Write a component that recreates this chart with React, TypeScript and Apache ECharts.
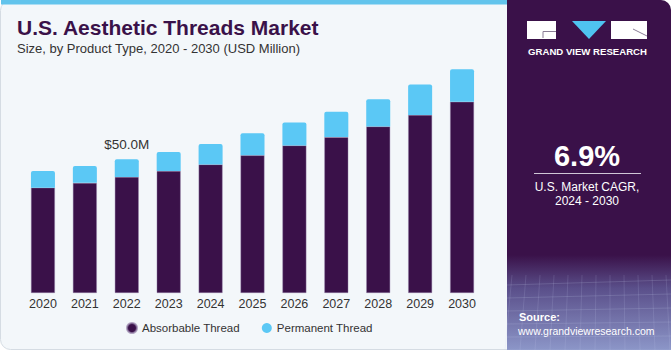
import React, { useEffect, useRef } from "react";
import * as echarts from "echarts";

const years = ["2020", "2021", "2022", "2023", "2024", "2025", "2026", "2027", "2028", "2029", "2030"];
const absorbable = [39.4, 41.2, 43.4, 45.6, 48.1, 51.5, 55.2, 58.3, 62.3, 66.6, 71.5];
const permanent = [6.2, 6.3, 6.6, 7.1, 7.6, 8.2, 8.6, 9.5, 10.2, 11.4, 12.2];
const labelIndex = 2;
const labelText = "$50.0M";
const seriesNames = ["Absorbable Thread", "Permanent Thread"];
const title = "U.S. Aesthetic Threads Market";
const subtitle = "Size, by Product Type, 2020 - 2030 (USD Million)";
const cagrValue = "6.9%";
const cagrLines = ["U.S. Market CAGR,", "2024 - 2030"];

const DARK = "#3a1149";
const LIGHT = "#5bc8f5";
const FONT = "'Liberation Sans', Arial, sans-serif";

export default function App() {
  const ref = useRef<HTMLDivElement>(null);
  useEffect(() => {
    document.body.style.margin = "0";
    if (!ref.current) return;
    const chart = echarts.init(ref.current, undefined, { renderer: "svg" });
    const gridLines: any[] = [];
    for (let i = 0; i < 6; i++) {
      gridLines.push({
        type: "line",
        silent: true,
        shape: { x1: 507, y1: 285 + i * 13, x2: 671, y2: 280 + i * 14 },
        style: { stroke: "rgba(200,210,240,0.18)", lineWidth: 1 },
      });
    }
    for (let i = 0; i < 12; i++) {
      gridLines.push({
        type: "line",
        silent: true,
        shape: { x1: 512 + i * 14, y1: 275, x2: 505 + i * 15, y2: 350 },
        style: { stroke: "rgba(200,210,240,0.15)", lineWidth: 1 },
      });
    }
    chart.setOption({
      animation: false,
      textStyle: { fontFamily: FONT },
      grid: { left: 22, right: 188, top: 25.6, bottom: 57, containLabel: false },
      xAxis: {
        type: "category",
        data: years,
        axisLine: { show: false },
        axisTick: { show: false },
        axisLabel: { color: "#333", fontSize: 12.5, margin: 4, fontFamily: FONT },
      },
      yAxis: { type: "value", min: 0, max: 100, show: false },
      legend: {
        data: seriesNames,
        left: 121,
        top: 317,
        icon: "circle",
        itemWidth: 10,
        itemHeight: 10,
        itemGap: 22,
        textStyle: { color: "#333", fontSize: 11.5, fontFamily: FONT },
      },
      graphic: [
        {
          type: "rect",
          silent: true,
          z: -10,
          shape: { x: 0.5, y: 0.5, width: 670, height: 349, r: 10 },
          style: { fill: "#f3f7fa", stroke: "#d5dce3", lineWidth: 1 },
        },
        {
          type: "rect",
          silent: true,
          z: -9,
          shape: { x: 1, y: 0, width: 510, height: 4.5 },
          style: { fill: "#62c4ec" },
        },
        {
          type: "rect",
          silent: true,
          z: -8,
          shape: { x: 507, y: 0, width: 164, height: 350, r: [0, 10, 0, 0] },
          style: { fill: DARK },
        },
        {
          type: "rect",
          silent: true,
          z: -7,
          shape: { x: 507, y: 255, width: 164, height: 95 },
          style: {
            fill: new echarts.graphic.LinearGradient(0, 0, 0, 1, [
              { offset: 0, color: "rgba(58,17,73,1)" },
              { offset: 0.35, color: "#5a4f8a" },
              { offset: 1, color: "#8c96c8" },
            ]),
          },
        },
        ...gridLines.map((g) => ({ ...g, z: -6 })),
        // logo
        { type: "rect", silent: true, shape: { x: 527, y: 21, width: 29, height: 18 }, style: { fill: "#fff" } },
        {
          type: "polyline",
          silent: true,
          shape: { points: [[556, 31.5], [543, 31.5], [543, 38]] },
          style: { stroke: "#8a7d96", lineWidth: 1, fill: "none" },
        },
        {
          type: "polygon",
          silent: true,
          shape: { points: [[572, 21], [606, 21], [589, 39]] },
          style: { fill: "#4fc3f0" },
        },
        { type: "rect", silent: true, shape: { x: 611, y: 21, width: 36, height: 18 }, style: { fill: "#fff" } },
        {
          type: "polyline",
          silent: true,
          shape: { points: [[633, 29], [647, 36]] },
          style: { stroke: "#8a7d96", lineWidth: 1, fill: "none" },
        },
        {
          type: "text",
          silent: true,
          x: 587.5,
          y: 51.5,
          style: {
            text: "GRAND VIEW RESEARCH",
            fill: "#fff",
            font: `bold 9.6px ${FONT}`,
            align: "center",
            verticalAlign: "middle",
          },
        },
        // title
        {
          type: "text",
          silent: true,
          x: 17,
          y: 27.5,
          style: {
            text: title,
            fill: DARK,
            font: `bold 21px ${FONT}`,
            align: "left",
            verticalAlign: "middle",
          },
        },
        {
          type: "text",
          silent: true,
          x: 17,
          y: 48.5,
          style: {
            text: subtitle,
            fill: "#333",
            font: `13px ${FONT}`,
            align: "left",
            verticalAlign: "middle",
          },
        },
        // CAGR
        {
          type: "text",
          silent: true,
          x: 587,
          y: 155.5,
          style: {
            text: cagrValue,
            fill: "#fff",
            font: `bold 29px ${FONT}`,
            align: "center",
            verticalAlign: "middle",
          },
        },
        {
          type: "line",
          silent: true,
          shape: { x1: 534, y1: 173.5, x2: 641, y2: 173.5 },
          style: { stroke: "#cfc6d6", lineWidth: 1 },
        },
        {
          type: "text",
          silent: true,
          x: 587,
          y: 186.5,
          style: {
            text: cagrLines[0],
            fill: "#fff",
            font: `12px ${FONT}`,
            align: "center",
            verticalAlign: "middle",
          },
        },
        {
          type: "text",
          silent: true,
          x: 587,
          y: 201,
          style: {
            text: cagrLines[1],
            fill: "#fff",
            font: `12px ${FONT}`,
            align: "center",
            verticalAlign: "middle",
          },
        },
        {
          type: "text",
          silent: true,
          x: 519,
          y: 317,
          style: {
            text: "Source:",
            fill: "#fff",
            font: `bold 11px ${FONT}`,
            align: "left",
            verticalAlign: "middle",
          },
        },
        {
          type: "text",
          silent: true,
          x: 518,
          y: 330.5,
          style: {
            text: "www.grandviewresearch.com",
            fill: "#fff",
            font: `10.5px ${FONT}`,
            align: "left",
            verticalAlign: "middle",
          },
        },
      ],
      series: [
        {
          name: seriesNames[0],
          type: "bar",
          stack: "total",
          barWidth: 24,
          data: absorbable,
          itemStyle: { color: DARK, borderColor: "rgba(150,130,170,0.7)", borderWidth: 0.6 },
        },
        {
          name: seriesNames[1],
          type: "bar",
          stack: "total",
          barWidth: 24,
          data: permanent.map((v, i) =>
            i === labelIndex
              ? {
                  value: v,
                  label: {
                    show: true,
                    position: "top",
                    distance: 8,
                    formatter: labelText,
                    color: "#333",
                    fontSize: 13.5,
                    fontFamily: FONT,
                  },
                }
              : v
          ),
          itemStyle: { color: LIGHT, borderRadius: [2, 2, 0, 0] },
        },
      ],
    });
    return () => chart.dispose();
  }, []);
  return <div ref={ref} style={{ width: 671, height: 350 }} />;
}
